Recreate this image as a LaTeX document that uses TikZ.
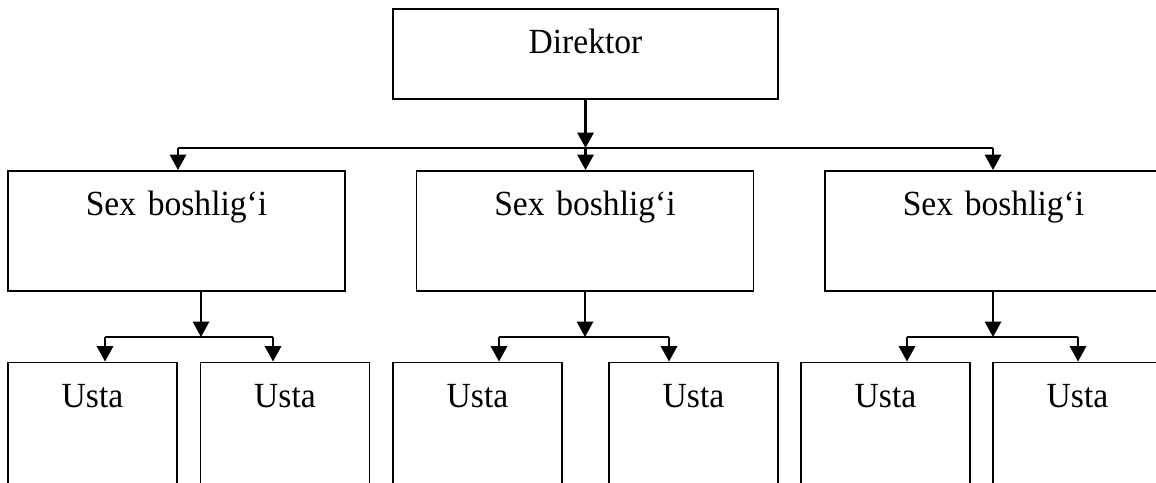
\documentclass[tikz,border=0pt]{standalone}
\usepackage{fontspec}
\setmainfont{Liberation Serif}[FakeStretch=0.95,WordSpace=0.75]
\usetikzlibrary{arrows.meta}
\newdimen\px
\px=0.75pt
\begin{document}
\begin{tikzpicture}[x=0.75pt,y=-0.75pt,
  box/.style={draw,line width=1.4pt,rectangle,inner sep=0pt,align=center,
    font=\fontsize{26.5}{30}\selectfont},
  topbox/.style={box,minimum width=385\px,minimum height=90\px,
    text width=385\px,text height=44\px,text depth=46\px},
  headbox/.style={box,minimum width=337\px,minimum height=120\px,
    text width=337\px,text height=44\px,text depth=76\px},
  workbox/.style={box,minimum width=169\px,minimum height=160\px,
    text width=169\px,text height=45\px,text depth=115\px},
  bus/.style={line width=1.5pt},
  arr/.style={line width=2.1pt,-{Triangle[length=11.5pt,width=12pt]}}]
\useasboundingbox (0,0) rectangle (1156,482);
\clip (0,0) rectangle (1156,482);

% top level
\node[topbox] (dir) at (585.5,54) {Direktor};

% department heads
\node[headbox] (s1) at (176.5,231) {Sex boshlig‘i};
\node[headbox] (s2) at (585,231) {Sex boshlig‘i};
\node[headbox] (s3) at (993.5,231) {Sex boshlig‘i};

% foremen
\node[workbox] (u1) at (92.5,442.5) {Usta};
\node[workbox] (u2) at (285,442.5) {Usta};
\node[workbox] (u3) at (477.5,442.5) {Usta};
\node[workbox] (u4) at (693.5,442.5) {Usta};
\node[workbox] (u5) at (885.5,442.5) {Usta};
\node[workbox] (u6) at (1077.5,442.5) {Usta};

% distribution lines
\coordinate (busL) at (178,148);
\coordinate (busM) at (585.5,148);
\coordinate (busR) at (993,148);

\coordinate (a1) at (201,337);
\coordinate (a1l) at (105,337);
\coordinate (a1r) at (273,337);
\coordinate (a2) at (585,337);
\coordinate (a2l) at (499,337);
\coordinate (a2r) at (669,337);
\coordinate (a3) at (993,337);
\coordinate (a3l) at (907,337);
\coordinate (a3r) at (1078,337);

% director to heads
\draw[arr] (dir.south) -- (busM);
\draw[bus] (busL) -- (busR);
\draw[arr] (busL) -- (busL |- s1.north);
\draw[arr] (busM) -- (busM |- s2.north);
\draw[arr] (busR) -- (busR |- s3.north);

% heads to foremen
\draw[arr] (a1 |- s1.south) -- (a1);
\draw[bus] (a1l) -- (a1r);
\draw[arr] (a1l) -- (a1l |- u1.north);
\draw[arr] (a1r) -- (a1r |- u2.north);

\draw[arr] (a2 |- s2.south) -- (a2);
\draw[bus] (a2l) -- (a2r);
\draw[arr] (a2l) -- (a2l |- u3.north);
\draw[arr] (a2r) -- (a2r |- u4.north);

\draw[arr] (a3 |- s3.south) -- (a3);
\draw[bus] (a3l) -- (a3r);
\draw[arr] (a3l) -- (a3l |- u5.north);
\draw[arr] (a3r) -- (a3r |- u6.north);
\end{tikzpicture}
\end{document}
